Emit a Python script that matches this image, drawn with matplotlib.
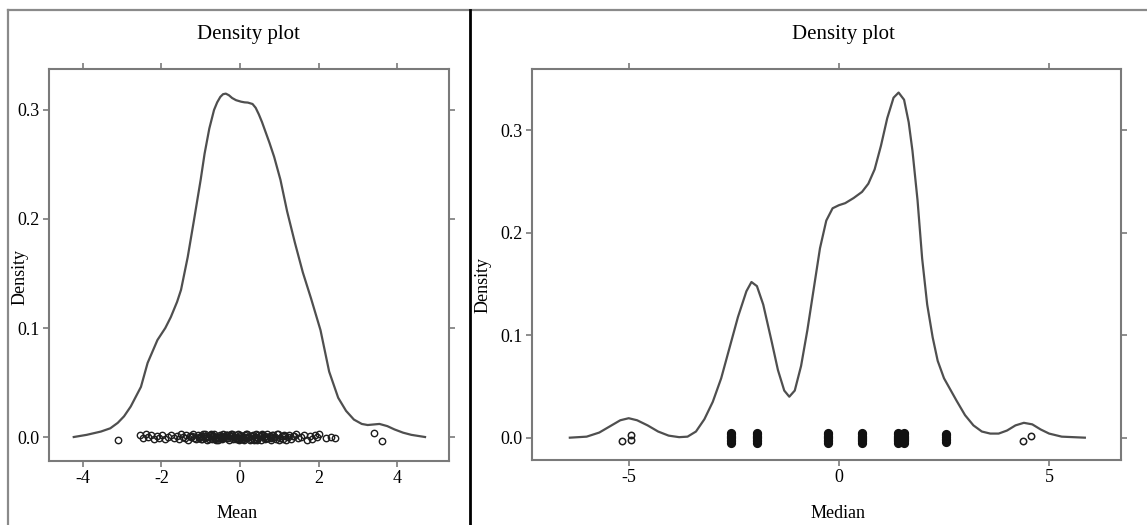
import matplotlib
matplotlib.use("Agg")
import matplotlib.pyplot as plt
from matplotlib.lines import Line2D

plt.rcParams["font.family"] = ["Liberation Serif", "DejaVu Serif"]

# density curve (Mean)
mean_x = [-4.23, -3.9, -3.54, -3.3, -3.11, -2.95, -2.78, -2.52, -2.35, -2.1,
          -1.9, -1.76, -1.6, -1.5, -1.33, -1.17, -1.0, -0.9, -0.78, -0.66,
          -0.58, -0.5, -0.43, -0.36, -0.28, -0.2, -0.1, 0.03, 0.12, 0.2,
          0.32, 0.4, 0.48, 0.56, 0.65, 0.75, 0.87, 1.03, 1.2, 1.4,
          1.6, 1.81, 2.05, 2.27, 2.5, 2.7, 2.9, 3.1, 3.25, 3.4,
          3.55, 3.75, 3.93, 4.15, 4.36, 4.71]
mean_y = [0.0, 0.002, 0.005, 0.008, 0.013, 0.019, 0.028, 0.046, 0.068, 0.089,
          0.100, 0.110, 0.124, 0.135, 0.165, 0.199, 0.236, 0.260, 0.283, 0.300,
          0.307, 0.312, 0.3145, 0.315, 0.3135, 0.311, 0.309, 0.3076, 0.307, 0.3068,
          0.3055, 0.302, 0.296, 0.289, 0.280, 0.270, 0.257, 0.236, 0.207, 0.178,
          0.151, 0.127, 0.098, 0.060, 0.036, 0.024, 0.016, 0.012, 0.011, 0.0115,
          0.012, 0.010, 0.007, 0.004, 0.002, 0.0]

# density curve (Median)
median_x = [-6.4, -6.0, -5.7, -5.45, -5.2, -5.0, -4.8, -4.55, -4.3, -4.05,
            -3.8, -3.6, -3.4, -3.2, -3.0, -2.8, -2.6, -2.4, -2.2, -2.08,
            -1.95, -1.8, -1.6, -1.45, -1.3, -1.18, -1.05, -0.9, -0.75, -0.6,
            -0.45, -0.3, -0.15, 0.0, 0.15, 0.35, 0.55, 0.7, 0.85, 1.0,
            1.15, 1.3, 1.42, 1.55, 1.66, 1.75, 1.87, 1.98, 2.1, 2.23,
            2.35, 2.5, 2.65, 2.8, 3.0, 3.2, 3.4, 3.6, 3.8, 4.0,
            4.2, 4.4, 4.6, 4.8, 5.0, 5.3, 5.85]
median_y = [0.0, 0.001, 0.005, 0.011, 0.017, 0.019, 0.017, 0.012, 0.006, 0.002,
            0.0005, 0.001, 0.006, 0.018, 0.035, 0.058, 0.088, 0.118, 0.143, 0.152,
            0.148, 0.130, 0.094, 0.066, 0.046, 0.040, 0.046, 0.070, 0.105, 0.145,
            0.185, 0.212, 0.224, 0.227, 0.229, 0.234, 0.240, 0.248, 0.262, 0.285,
            0.312, 0.332, 0.337, 0.330, 0.308, 0.280, 0.232, 0.175, 0.130, 0.098,
            0.075, 0.058, 0.047, 0.036, 0.022, 0.012, 0.006, 0.004, 0.004, 0.007,
            0.012, 0.0145, 0.013, 0.008, 0.004, 0.001, 0.0]

# jittered rug points, left panel
mean_rug_x = [-3.10, -2.55, -2.48, -2.40, -2.33, -2.27, -2.20, -2.12, -2.05, -1.98,
              -1.90, -1.84, -1.75, -1.68, -1.60, -1.55, -1.50, -1.46, -1.41, -1.37,
              -1.32, -1.28, -1.24, -1.20, -1.16, -1.12, -1.08, -1.04, -1.00, -0.97,
              -0.93, -0.90, -0.86, -0.83, -0.79, -0.76, -0.72, -0.69, -0.65, -0.62,
              -0.58, -0.55, -0.52, -0.48, -0.45, -0.42, -0.38, -0.35, -0.32, -0.28,
              -0.25, -0.22, -0.18, -0.15, -0.12, -0.08, -0.05, -0.02, 0.02, 0.05,
              0.08, 0.12, 0.15, 0.18, 0.22, 0.25, 0.28, 0.32, 0.35, 0.39,
              0.42, 0.46, 0.50, 0.53, 0.57, 0.61, 0.64, 0.68, 0.72, 0.76,
              0.80, 0.84, 0.88, 0.92, 0.97, 1.02, 1.06, 1.11, 1.16, 1.21,
              1.26, 1.31, 1.37, 1.42, 1.48, 1.55, 1.62, 1.70, 1.78, 1.84,
              1.90, 1.95, 2.00, 2.18, 2.32, 2.42, 3.40, 3.62,
              -1.05, -0.95, -0.80, -0.70, -0.60, -0.50, -0.40, -0.30, -0.20, -0.10,
              0.00, 0.10, 0.20, 0.30, 0.40, 0.55, 0.70, 0.85, 1.00, 1.15,
              -0.88, -0.63, -0.43, -0.33, -0.03, 0.27, 0.47, 0.63, 0.78, 0.95,
              -1.22, -0.99, -0.74, -0.53, -0.36, -0.16, 0.03, 0.16, 0.36, 0.51,
              0.66, 0.82, 1.09, 1.34, -0.67, -0.46, -0.26, -0.06, 0.13, 0.44]
mean_rug_y = [-0.003, 0.002, -0.001, 0.003, 0.000, 0.002, -0.002, 0.001, -0.001, 0.002,
              -0.002, 0.000, 0.002, -0.001, 0.001, -0.002, 0.003, 0.000, -0.001, 0.002,
              -0.003, 0.001, 0.000, 0.003, -0.001, -0.002, 0.002, 0.000, 0.001, -0.002,
              0.003, -0.001, 0.001, -0.003, 0.000, 0.002, -0.002, 0.001, 0.003, -0.001,
              0.000, -0.003, 0.002, 0.001, -0.002, 0.003, 0.000, -0.001, 0.002, -0.003,
              0.001, 0.003, -0.002, 0.000, 0.002, -0.001, 0.003, -0.003, 0.001, 0.000,
              -0.002, 0.002, -0.001, 0.003, 0.000, -0.003, 0.001, 0.002, -0.002, 0.000,
              0.003, -0.001, 0.001, -0.003, 0.002, 0.000, -0.002, 0.003, -0.001, 0.001,
              -0.003, 0.002, 0.000, -0.002, 0.003, -0.001, 0.001, 0.002, -0.003, 0.000,
              0.002, -0.002, 0.001, 0.003, -0.001, 0.000, 0.002, -0.003, 0.001, -0.002,
              0.002, 0.000, 0.003, -0.001, 0.000, -0.001, 0.004, -0.004,
              -0.001, 0.001, -0.002, 0.002, -0.003, 0.000, 0.001, -0.001, 0.003, -0.002,
              0.002, -0.003, 0.000, 0.001, -0.002, 0.003, -0.001, 0.000, -0.003, 0.001,
              0.003, -0.002, 0.000, 0.002, -0.001, -0.002, 0.002, 0.001, -0.001, 0.003,
              0.001, -0.002, 0.003, -0.001, 0.002, 0.000, -0.002, 0.003, -0.003, 0.001,
              -0.001, 0.002, -0.002, 0.001, 0.001, -0.001, 0.002, -0.002, 0.000, -0.003]

# jittered rug points, right panel (single outliers, then stacked clusters)
median_out_x = [-5.17, -4.94, -4.94, 4.38, 4.58]
median_out_y = [-0.003, 0.003, -0.002, -0.003, 0.002]
median_rug_x = [-2.56, -2.56, -2.56, -2.56, -2.56, -2.56, -2.56, -2.56,
                -1.95, -1.95, -1.95, -1.95, -1.95, -1.95, -1.95, -1.95,
                -0.27, -0.27, -0.27, -0.27, -0.27, -0.27, -0.27, -0.27,
                0.56, 0.56, 0.56, 0.56, 0.56, 0.56, 0.56, 0.56, 0.56,
                1.40, 1.40, 1.40, 1.40, 1.40, 1.40, 1.40, 1.40, 1.40,
                1.55, 1.55, 1.55, 1.55, 1.55, 1.55, 1.55, 1.55, 1.55,
                1.47, 1.47, 1.47, 1.47, 1.47, 1.47,
                2.55, 2.55, 2.55, 2.55, 2.55, 2.55]
median_rug_y = [-0.005, -0.0035, -0.002, -0.0005, 0.0005, 0.002, 0.0035, 0.005,
                -0.005, -0.0035, -0.002, -0.0005, 0.0005, 0.002, 0.0035, 0.005,
                -0.005, -0.0035, -0.002, -0.0005, 0.0005, 0.002, 0.0035, 0.005,
                -0.005, -0.0035, -0.002, -0.001, 0.000, 0.001, 0.002, 0.0035, 0.005,
                -0.005, -0.0035, -0.002, -0.001, 0.000, 0.001, 0.002, 0.0035, 0.005,
                -0.005, -0.0035, -0.002, -0.001, 0.000, 0.001, 0.002, 0.0035, 0.005,
                -0.004, -0.0025, -0.001, 0.001, 0.0025, 0.004,
                -0.004, -0.0025, -0.001, 0.001, 0.0025, 0.004]

W, H = 1147, 525
fig = plt.figure(figsize=(W / 100, H / 100), dpi=100)
frameColor = "#7a7a7a"
curveColor = "#4f4f4f"


def makePanel(rect, xlim, ylim, xticks):
    ax = fig.add_axes(rect)
    ax.set_xlim(*xlim)
    ax.set_ylim(*ylim)
    ax.set_xticks(xticks)
    ax.set_xticklabels([str(t) if t >= 0 else "-" + str(-t) for t in xticks])
    ax.set_yticks([0.0, 0.1, 0.2, 0.3])
    ax.set_yticklabels(["0.0", "0.1", "0.2", "0.3"])
    for s in ax.spines.values():
        s.set_color(frameColor)
        s.set_linewidth(1.5)
    ax.tick_params(axis="both", which="both", direction="out", length=4.5,
                   width=1.2, color=frameColor, labelsize=13, pad=2,
                   top=True, right=True, labeltop=False, labelright=False)
    return ax


def px(x0, y0, x1, y1):
    return [x0 / W, 1 - y1 / H, (x1 - x0) / W, (y1 - y0) / H]


axL = makePanel(px(49, 69, 449, 461), (-4.86, 5.32), (-0.022, 0.3376), [-4, -2, 0, 2, 4])
axL.plot(mean_x, mean_y, color=curveColor, lw=1.6)
axL.plot(mean_rug_x, mean_rug_y, linestyle="none", marker="o", markersize=4.6,
         markerfacecolor="none", markeredgecolor="#1e1e1e", markeredgewidth=1.0)

axR = makePanel(px(532, 69, 1121, 460), (-7.3, 6.71), (-0.0218, 0.36), [-5, 0, 5])
axR.plot(median_x, median_y, color=curveColor, lw=1.6)
axR.plot(median_out_x, median_out_y, linestyle="none", marker="o", markersize=4.6,
         markerfacecolor="none", markeredgecolor="#1e1e1e", markeredgewidth=1.1)
axR.plot(median_rug_x, median_rug_y, linestyle="none", marker="o", markersize=4.8,
         markerfacecolor="none", markeredgecolor="#111111", markeredgewidth=1.8)

# titles and axis labels
fig.text(248 / W, 1 - 35 / H, "Density plot", ha="center", va="center", fontsize=15)
fig.text(843 / W, 1 - 35 / H, "Density plot", ha="center", va="center", fontsize=15)
fig.text(237 / W, 1 - 513 / H, "Mean", ha="center", va="center", fontsize=13)
fig.text(838 / W, 1 - 513 / H, "Median", ha="center", va="center", fontsize=13)
fig.text(20 / W, 1 - 277 / H, "Density", ha="center", va="center", fontsize=13, rotation=90)
fig.text(483 / W, 1 - 285 / H, "Density", ha="center", va="center", fontsize=13, rotation=90)

# outer frame and panel divider
fig.add_artist(Line2D([8 / W, 1.0], [1 - 10 / H, 1 - 10 / H], color="#8a8a8a", lw=1.6))
fig.add_artist(Line2D([8 / W, 8 / W], [0.0, 1 - 10 / H], color="#8a8a8a", lw=1.6))
fig.add_artist(Line2D([470 / W, 470 / W], [0.0, 1 - 10 / H], color="black", lw=2.0))

fig.savefig("out.png", dpi=100)
